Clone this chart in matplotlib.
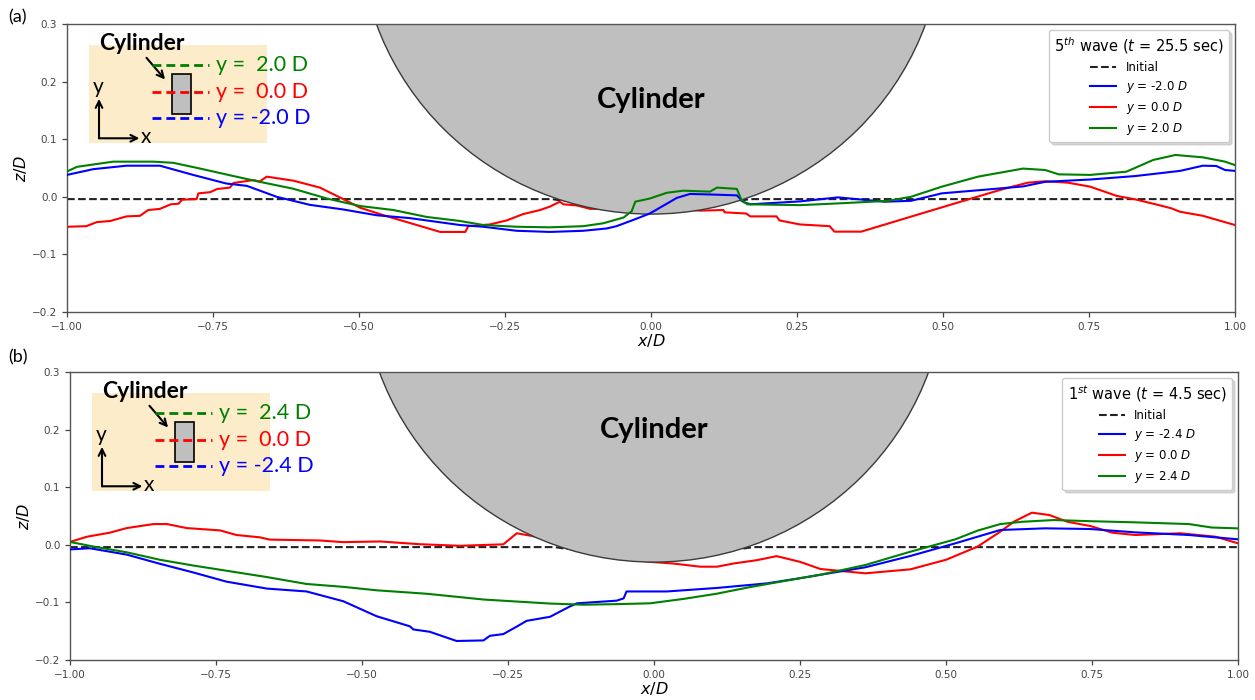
import matplotlib
matplotlib.use("Agg")
import matplotlib.pyplot as plt
from matplotlib.patches import Circle, Rectangle

# ---------------- data ----------------
init_x = [-1.0, -0.17, -0.15, 0.15, 0.17, 1.0]
init_z = [-0.004, -0.004, -0.007, -0.007, -0.004, -0.004]

# panel (a): 5th wave
blue_a_x = [-1.0, -0.955, -0.898, -0.841, -0.784, -0.727, -0.692, -0.641, -0.584, -0.527, -0.470, -0.413,
            -0.327, -0.287, -0.230, -0.173, -0.116, -0.076, -0.059, -0.030, -0.002, 0.027, 0.044, 0.067,
            0.101, 0.147, 0.158, 0.170, 0.255, 0.32, 0.40, 0.445, 0.498, 0.568, 0.637, 0.675, 0.752,
            0.829, 0.906, 0.945, 0.968, 0.983, 1.0]
blue_a_z = [0.038, 0.048, 0.054, 0.054, 0.038, 0.023, 0.019, 0.000, -0.014, -0.022, -0.032, -0.037,
            -0.049, -0.052, -0.059, -0.061, -0.059, -0.055, -0.051, -0.040, -0.029, -0.012, -0.002, 0.005,
            0.004, 0.0025, -0.009, -0.013, -0.008, -0.001, -0.0085, -0.007, 0.006, 0.012, 0.018, 0.026, 0.030,
            0.036, 0.045, 0.054, 0.0535, 0.0465, 0.045]

green_a_x = [-1.0, -0.983, -0.921, -0.852, -0.818, -0.772, -0.715, -0.670, -0.6125, -0.555, -0.498, -0.441,
             -0.384, -0.327, -0.287, -0.230, -0.173, -0.116, -0.082, -0.047, -0.033, -0.027, -0.002, 0.027,
             0.055, 0.101, 0.113, 0.147, 0.155, 0.165, 0.255, 0.33, 0.406, 0.445, 0.498, 0.56, 0.637,
             0.675, 0.698, 0.752, 0.814, 0.86, 0.898, 0.945, 0.983, 1.0]
green_a_z = [0.044, 0.052, 0.061, 0.061, 0.059, 0.049, 0.036, 0.026, 0.014, -0.003, -0.016, -0.023,
             -0.035, -0.042, -0.049, -0.052, -0.053, -0.051, -0.046, -0.036, -0.025, -0.0085, -0.003, 0.007,
             0.0106, 0.009, 0.016, 0.0137, -0.0056, -0.013, -0.0145, -0.011, -0.007, 0.000, 0.0176, 0.035, 0.049,
             0.0465, 0.039, 0.038, 0.0436, 0.064, 0.0726, 0.0685, 0.061, 0.055]

red_a_x = [-1.0, -0.967, -0.949, -0.926, -0.898, -0.875, -0.861, -0.841, -0.822, -0.809, -0.803, -0.778,
           -0.775, -0.755, -0.743, -0.721, -0.715, -0.681, -0.670, -0.658, -0.6125, -0.567, -0.527, -0.498,
           -0.458, -0.401, -0.361, -0.318, -0.313, -0.276, -0.247, -0.219, -0.190, -0.173, -0.156, -0.150,
           -0.127, -0.104, -0.05, 0.03, 0.084, 0.124, 0.126, 0.163, 0.17, 0.215, 0.22, 0.255, 0.306,
           0.314, 0.36, 0.445, 0.522, 0.598, 0.645, 0.675, 0.714, 0.752, 0.798, 0.829, 0.868, 0.891,
           0.906, 0.945, 1.0]
red_a_z = [-0.052, -0.051, -0.044, -0.042, -0.034, -0.033, -0.023, -0.021, -0.013, -0.012, -0.005, -0.004,
           0.006, 0.008, 0.0135, 0.016, 0.024, 0.029, 0.0265, 0.035, 0.028, 0.016, -0.004, -0.019,
           -0.032, -0.049, -0.061, -0.061, -0.051, -0.048, -0.041, -0.030, -0.023, -0.017, -0.0085, -0.013,
           -0.015, -0.021, -0.02, -0.02, -0.024, -0.023, -0.027, -0.029, -0.034, -0.034, -0.041, -0.048, -0.051,
           -0.0605, -0.0605, -0.0345, -0.011, 0.012, 0.0245, 0.027, 0.0245, 0.0176, 0.0014, -0.0044, -0.014, -0.020,
           -0.026, -0.033, -0.049]

# panel (b): 1st wave
blue_b_x = [-1.0, -0.966, -0.903, -0.846, -0.789, -0.732, -0.663, -0.595, -0.532, -0.475, -0.418, -0.412,
            -0.384, -0.338, -0.292, -0.281, -0.258, -0.235, -0.218, -0.178, -0.144, -0.132, -0.064, -0.052,
            -0.047, 0.022, 0.107, 0.193, 0.25, 0.285, 0.362, 0.439, 0.516, 0.593, 0.670, 0.747, 0.824,
            0.916, 1.0]
blue_b_z = [-0.008, -0.006, -0.017, -0.033, -0.048, -0.064, -0.076, -0.081, -0.098, -0.124, -0.1415, -0.147,
            -0.151, -0.167, -0.166, -0.158, -0.155, -0.142, -0.132, -0.125, -0.107, -0.1016, -0.097, -0.093,
            -0.081, -0.081, -0.075, -0.067, -0.058, -0.052, -0.039, -0.0194, 0.0026, 0.0257, 0.0286, 0.0274, 0.0216,
            0.017, 0.0095]

green_b_x = [-1.0, -0.960, -0.903, -0.846, -0.789, -0.732, -0.663, -0.595, -0.532, -0.475, -0.389, -0.292,
             -0.178, -0.121, -0.064, -0.007, 0.05, 0.107, 0.164, 0.25, 0.285, 0.362, 0.439, 0.516, 0.554,
             0.593, 0.631, 0.685, 0.747, 0.824, 0.916, 0.955, 1.0]
green_b_z = [0.005, -0.003, -0.013, -0.026, -0.036, -0.045, -0.056, -0.068, -0.073, -0.079, -0.085, -0.095,
             -0.102, -0.104, -0.103, -0.1016, -0.094, -0.085, -0.0735, -0.058, -0.052, -0.035, -0.012, 0.0095, 0.0246,
             0.036, 0.040, 0.043, 0.041, 0.039, 0.036, 0.030, 0.0285]

red_b_x = [-1.0, -0.971, -0.932, -0.903, -0.857, -0.834, -0.80, -0.743, -0.715, -0.675, -0.658, -0.572,
           -0.532, -0.469, -0.401, -0.332, -0.258, -0.235, -0.207, -0.178, -0.12, -0.06, -0.007, 0.033,
           0.079, 0.108, 0.136, 0.176, 0.21, 0.25, 0.285, 0.362, 0.439, 0.50, 0.554, 0.593, 0.616,
           0.647, 0.677, 0.708, 0.747, 0.785, 0.824, 0.901, 0.962, 1.0]
red_b_z = [0.005, 0.014, 0.021, 0.029, 0.036, 0.036, 0.029, 0.025, 0.017, 0.013, 0.009, 0.0075,
           0.0046, 0.0058, 0.001, -0.0017, 0.0008, 0.020, 0.015, 0.008, -0.005, -0.022, -0.0296, -0.0325,
           -0.038, -0.038, -0.0325, -0.0267, -0.0197, -0.0296, -0.042, -0.0495, -0.0426, -0.026, -0.0032, 0.0228, 0.040,
           0.0558, 0.0517, 0.040, 0.0326, 0.021, 0.017, 0.020, 0.014, 0.0026]

panels = [
    dict(tag="(a)", title="5$^{th}$ wave ($t$ = 25.5 sec)",
         labels=["$y$ = -2.0 $D$", "$y$ = 0.0 $D$", "$y$ = 2.0 $D$"],
         inset=["y =  2.0 D", "y =  0.0 D", "y = -2.0 D"],
         blue=(blue_a_x, blue_a_z), red=(red_a_x, red_a_z), green=(green_a_x, green_a_z),
         rect=[67 / 1255, 1 - 312 / 700, 1168 / 1255, 288 / 700], cyl_z=0.168, tag_y=17),
    dict(tag="(b)", title="1$^{st}$ wave ($t$ = 4.5 sec)",
         labels=["$y$ = -2.4 $D$", "$y$ = 0.0 $D$", "$y$ = 2.4 $D$"],
         inset=["y =  2.4 D", "y =  0.0 D", "y = -2.4 D"],
         blue=(blue_b_x, blue_b_z), red=(red_b_x, red_b_z), green=(green_b_x, green_b_z),
         rect=[70 / 1255, 1 - 660 / 700, 1168 / 1255, 288 / 700], cyl_z=0.199, tag_y=357),
]

xticks = [-1.0, -0.75, -0.5, -0.25, 0.0, 0.25, 0.5, 0.75, 1.0]
yticks = [-0.2, -0.1, 0.0, 0.1, 0.2, 0.3]

BLUE, RED, GREEN = "#0000ff", "#ff0000", "#008000"
INSET_FONT = ["Lato", "DejaVu Sans"]

fig = plt.figure(figsize=(12.55, 7.0), dpi=100)

for p in panels:
    ax = fig.add_axes(p["rect"])
    ax.set_xlim(-1, 1)
    ax.set_ylim(-0.2, 0.3)
    ax.set_xticks(xticks)
    ax.set_yticks(yticks)
    ax.set_xticklabels([f"{v:.2f}".replace("-", "\u2212") for v in xticks])
    ax.set_yticklabels([f"{v:.1f}".replace("-", "\u2212") for v in yticks])
    ax.tick_params(labelsize=7.5, colors="#444444", length=3.5, width=0.9)
    for s in ax.spines.values():
        s.set_color("#555555")
        s.set_linewidth(1.0)

    l0, = ax.plot(init_x, init_z, "--", color="#222222", lw=1.5, zorder=1, label="Initial")
    lr, = ax.plot(*p["red"], color=RED, lw=1.5, zorder=1.5, label=p["labels"][1])
    cyl = Circle((0.0, 0.47), 0.5, facecolor="#bfbfbf", edgecolor="#3a3a3a", lw=1.0, zorder=2)
    ax.add_patch(cyl)
    lb, = ax.plot(*p["blue"], color=BLUE, lw=1.5, zorder=3, label=p["labels"][0])
    lg, = ax.plot(*p["green"], color=GREEN, lw=1.5, zorder=3, label=p["labels"][2])

    ax.text(0.0, p["cyl_z"], "Cylinder", ha="center", va="center", fontsize=21,
            fontweight="bold", family=INSET_FONT, zorder=4)

    leg = ax.legend(handles=[l0, lb, lr, lg], loc="upper right", fontsize=8.5,
                    title=p["title"], title_fontsize=10.5, labelspacing=0.42,
                    handlelength=2.2, fancybox=True, framealpha=1.0, edgecolor="#cccccc",
                    shadow={"color": "0.75", "alpha": 0.6}, borderpad=0.45)
    leg.set_zorder(6)

    ax.set_xlabel("$x/D$", fontsize=11.5, labelpad=0)
    ax.set_ylabel("$z/D$", fontsize=11.5, labelpad=2)

    # inset sketch
    ax.add_patch(Rectangle((-0.963, 0.094), 0.306, 0.170, facecolor="#fcecc9",
                           edgecolor="none", zorder=4))
    ax.text(-0.945, 0.267, "Cylinder", ha="left", va="center", fontsize=16.5,
            fontweight="bold", family=INSET_FONT, zorder=5)
    ax.add_patch(Rectangle((-0.8207, 0.1437), 0.0325, 0.0695, facecolor="#bfbfbf",
                           edgecolor="black", lw=1.2, zorder=5))
    ax.annotate("", xy=(-0.829, 0.200), xytext=(-0.867, 0.245),
                arrowprops=dict(arrowstyle="->", lw=1.5, color="black", mutation_scale=12), zorder=6)
    ax.annotate("", xy=(-0.9452, 0.170), xytext=(-0.9452, 0.1016),
                arrowprops=dict(arrowstyle="->", lw=1.5, color="black", mutation_scale=12,
                                shrinkA=0, shrinkB=0), zorder=6)
    ax.annotate("", xy=(-0.876, 0.1016), xytext=(-0.9452, 0.1016),
                arrowprops=dict(arrowstyle="->", lw=1.5, color="black", mutation_scale=12,
                                shrinkA=0, shrinkB=0), zorder=6)
    ax.text(-0.9464, 0.190, "y", ha="center", va="center", fontsize=15, family=INSET_FONT, zorder=6)
    ax.text(-0.864, 0.104, "x", ha="center", va="center", fontsize=15, family=INSET_FONT, zorder=6)
    for zc, col, txt in zip([0.2288, 0.1825, 0.1363], [GREEN, RED, BLUE], p["inset"]):
        ax.plot([-0.855, -0.757], [zc, zc], color=col, lw=2.0, dashes=(3.2, 1.8), zorder=6)
        ax.text(-0.745, zc, txt, ha="left", va="center", fontsize=15.5, color=col,
                family=INSET_FONT, zorder=6)

    fig.text(8 / 1255, 1 - p["tag_y"] / 700, p["tag"], fontsize=13, ha="left", va="center",
             family=INSET_FONT)

fig.savefig("out.png", dpi=100)
